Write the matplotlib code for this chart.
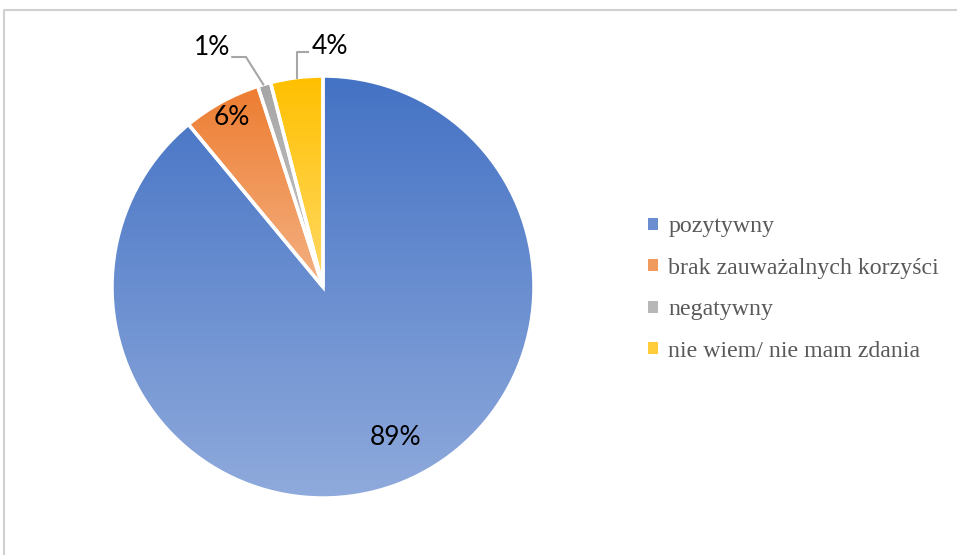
import numpy as np
import matplotlib.pyplot as plt
from matplotlib.colors import LinearSegmentedColormap
from matplotlib.patches import Patch

categories = [
    "pozytywny",
    "brak zauważalnych korzyści",
    "negatywny",
    "nie wiem/ nie mam zdania",
]
shares = [89, 6, 1, 4]
labels = ["89%", "6%", "1%", "4%"]

# top colour -> bottom colour of each slice's vertical gradient
top_colors = ["#4472C4", "#ED7D31", "#A5A5A5", "#FFC000"]
bottom_colors = ["#8FAADC", "#F4B183", "#C9C9C9", "#FFD966"]

W, H = 957, 555
fig = plt.figure(figsize=(W / 100, H / 100), dpi=100)

# light grey frame around the chart area
frame = fig.add_axes([0, 0, 1, 1])
frame.set_xlim(0, W)
frame.set_ylim(H, 0)
frame.axis("off")
frame.plot([4, 4, W + 5], [H + 5, 9.5, 9.5], color="#D0D0D0", lw=1.5)

cx, cy, r = 323, 287, 211
ax = fig.add_axes([(cx - r) / W, (H - cy - r) / H, 2 * r / W, 2 * r / H])
ax.set_xlim(-1, 1)
ax.set_ylim(-1, 1)
ax.set_aspect("equal")
ax.axis("off")

wedges, _ = ax.pie(shares, startangle=90, counterclock=False, radius=1,
                   wedgeprops=dict(edgecolor="white", linewidth=2.5))

for w, c0, c1 in zip(wedges, top_colors, bottom_colors):
    w.set_facecolor("none")
    ext = w.get_path().get_extents(w.get_patch_transform())
    cmap = LinearSegmentedColormap.from_list("g", [c0, c1])
    grad = np.linspace(0, 1, 256).reshape(-1, 1)
    im = ax.imshow(grad, cmap=cmap, aspect="auto", origin="upper",
                   extent=[ext.x0, ext.x1, ext.y0, ext.y1], zorder=0.5)
    im.set_clip_path(w)
    w.set_zorder(1)

ax.set_xlim(-1, 1)
ax.set_ylim(-1, 1)

lab_font = dict(family="Lato", fontsize=19, color="black")

# in-slice labels
ax.text(0.345, -0.715, labels[0], ha="center", va="center", **lab_font)
ax.text(-0.43, 0.805, labels[1], ha="center", va="center", **lab_font)

# outside labels with leader lines
line_kw = dict(color="#A6A6A6", lw=1.5, clip_on=False)
ax.plot([-0.283, -0.365, -0.43], [0.96, 1.09, 1.09], **line_kw)
ax.text(-0.44, 1.135, labels[2], ha="right", va="center", **lab_font)
ax.plot([-0.125, -0.125, -0.07], [0.99, 1.115, 1.115], **line_kw)
ax.text(-0.055, 1.14, labels[3], ha="left", va="center", **lab_font)

handles = [Patch(facecolor=c0, edgecolor="none") for c0 in
           ["#6A8ED0", "#F09A5E", "#B7B7B7", "#FFCD3A"]]
fig.legend(handles, categories, loc="center left",
           bbox_to_anchor=(636 / W, 1 - 289 / H), frameon=False,
           prop=dict(family="Liberation Serif", size=17.2),
           labelcolor="#595959", handlelength=0.4, handleheight=0.4,
           handletextpad=0.45, labelspacing=0.86, borderpad=0)

fig.savefig("out.png", dpi=100)
